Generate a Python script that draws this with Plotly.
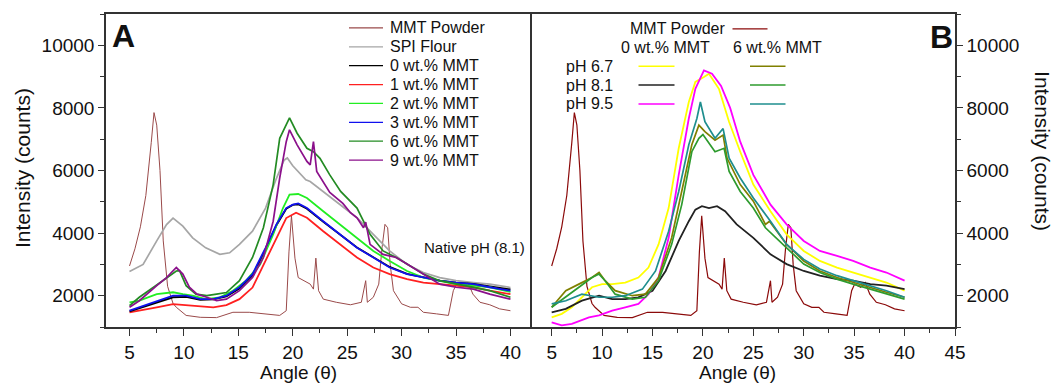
import plotly.graph_objects as go

# ---------------- Panel A data ----------------
x_mmt = [5.0, 5.5, 6.0, 6.5, 7.0, 7.25, 7.5, 7.8, 8.1, 8.5, 9.0, 9.3, 10.2, 11.5, 13.0, 14.5, 16.0, 17.5,
         18.8, 19.4, 19.65, 19.88, 20.2, 20.5, 21.0, 21.6, 21.9, 22.12, 22.37, 22.8, 24.0, 25.3, 26.3, 26.7,
         26.85, 27.4, 27.9, 28.2, 28.47, 28.72, 28.95, 29.25, 30.0, 30.8, 31.5, 32.0, 33.2, 34.3, 34.75,
         35.05, 35.65, 36.1, 36.55, 37.2, 38.1, 39.0, 40.0]
y_mmt = [2950, 3500, 4200, 5200, 6900, 7850, 7450, 6000, 3750, 2300, 1750, 1630, 1370, 1310, 1300, 1470, 1470, 1420,
         1370, 1520, 3400, 4550, 3200, 2580, 2480, 2370, 2210, 3200, 2160, 1890, 1790, 1710, 1790, 2480,
         1790, 1950, 2370, 3530, 4280, 4170, 3000, 2160, 1740, 1630, 1630, 1470, 1420, 1370, 2160,
         2370, 2270, 2420, 2050, 1790, 1710, 1580, 1520]

x_spi = [5.0, 6.25, 7.5, 8.4, 9.0, 9.9, 10.8, 12.0, 13.3, 14.2, 15.1, 16.3, 17.5, 18.5, 19.2, 19.5, 20.0, 20.5,
         21.2, 21.6, 22.8, 24.3, 25.9, 27.4, 28.9, 30.5, 32.0, 33.5, 35.0, 36.6, 38.1, 40.0]
y_spi = [2770, 3000, 3750, 4270, 4480, 4220, 3850, 3530, 3320, 3370, 3640, 4060, 4800, 5750, 6330, 6400, 6150, 5950,
         5700, 5650, 5330, 4910, 4490, 3960, 3430, 3000, 2740, 2580, 2480, 2420, 2370, 2260]

x_a0 = [5.0, 5.9, 7.5, 9.0, 10.2, 11.5, 12.7, 13.9, 15.1, 16.3, 17.5, 18.5, 19.4, 20.0, 20.5, 21.3, 22.8, 24.3,
        25.9, 27.4, 28.9, 30.5, 32.0, 33.5, 35.0, 36.6, 38.1, 40.0]
y_a0 = [1500, 1600, 1800, 1950, 1960, 1870, 1880, 1980, 2230, 2650, 3480, 4250, 4780, 4900, 4920, 4780, 4360, 3950,
        3540, 3230, 2920, 2700, 2590, 2480, 2420, 2380, 2300, 2200]

x_a1 = [5.0, 5.9, 7.5, 9.0, 10.2, 11.5, 12.7, 13.9, 15.1, 16.3, 17.5, 18.5, 19.4, 20.3, 21.3, 22.8, 24.3, 25.9,
        27.4, 28.9, 30.5, 32.0, 33.5, 35.0, 36.6, 38.1, 40.0]
y_a1 = [1470, 1520, 1630, 1730, 1700, 1680, 1630, 1700, 1890, 2260, 3100, 3850, 4480, 4650, 4490, 4060, 3640, 3220,
        2900, 2690, 2530, 2420, 2370, 2320, 2270, 2160, 2050]

x_a2 = [5.0, 5.9, 7.5, 9.0, 9.9, 10.8, 12.0, 13.3, 14.5, 15.7, 17.0, 18.2, 19.1, 19.7, 20.5, 21.3, 22.8, 24.3,
        25.9, 27.4, 28.9, 30.5, 32.0, 33.5, 35.0, 36.6, 38.1, 40.0]
y_a2 = [1790, 1840, 2050, 2110, 2050, 2000, 1890, 1950, 2160, 2480, 3000, 3960, 4800, 5230, 5250, 5120, 4700, 4280,
        3850, 3430, 3110, 2790, 2580, 2480, 2370, 2320, 2270, 2120]

x_a3 = [5.0, 5.9, 7.5, 9.0, 10.2, 11.5, 12.7, 13.9, 15.1, 16.3, 17.5, 18.5, 19.4, 20.0, 20.5, 21.3, 22.8, 24.3,
        25.9, 27.4, 28.9, 30.5, 32.0, 33.5, 35.0, 36.6, 38.1, 40.0]
y_a3 = [1520, 1630, 1840, 2000, 2000, 1890, 1890, 2000, 2270, 2690, 3530, 4280, 4800, 4910, 4950, 4800, 4380, 3960,
        3530, 3220, 2900, 2690, 2580, 2480, 2420, 2370, 2270, 2160]

x_a6 = [5.0, 5.9, 7.5, 8.4, 9.3, 9.6, 10.2, 11.1, 12.1, 13.0, 13.9, 15.1, 16.3, 17.3, 18.2, 18.8, 19.4, 19.7,
        20.4, 21.3, 21.9, 22.5, 23.4, 24.4, 25.9, 27.1, 28.3, 29.5, 30.5, 32.0, 33.5, 35.0, 36.6, 38.1, 40.0]
y_a6 = [1680, 1950, 2340, 2580, 2790, 2800, 2320, 2050, 2000, 2050, 2100, 2480, 3220, 4170, 5550, 7030, 7450, 7680,
        7190, 6710, 6600, 6390, 5860, 5330, 4800, 3960, 3430, 3220, 3010, 2690, 2480, 2370, 2270, 2160, 1950]

x_a9 = [5.0, 5.9, 7.5, 8.4, 9.3, 9.9, 10.5, 11.2, 12.1, 13.0, 13.9, 15.1, 16.3, 17.3, 18.2, 18.8, 19.4, 19.7,
        20.4, 21.3, 21.6, 21.9, 22.2, 23.4, 24.6, 25.3, 25.9, 26.5, 26.7, 27.1, 28.3, 29.5, 30.5, 32.0, 33.5,
        35.0, 36.6, 38.1, 40.0]
y_a9 = [1630, 1840, 2320, 2580, 2900, 2690, 2270, 2050, 1950, 1840, 1890, 2160, 2580, 3220, 4380, 5760, 6920, 7300,
        6820, 6290, 6180, 6920, 5970, 5300, 4950, 4650, 4490, 4170, 4350, 3640, 3320, 3220, 3010, 2690, 2370,
        2270, 2210, 2050, 1890]

# ---------------- Panel B data ----------------
x_b67_0 = [5.0, 6.0, 7.0, 8.0, 9.0, 10.0, 11.0, 12.3, 13.6, 14.6, 15.6, 16.6, 17.6, 18.6, 19.25, 20.1, 20.6, 21.6,
           22.6, 23.7, 25.0, 26.7, 28.3, 30.0, 31.6, 33.3, 34.9, 36.6, 38.2, 40.0]
y_b67_0 = [1310, 1420, 1630, 1950, 2270, 2370, 2370, 2420, 2580, 2900, 3640, 4800, 6710, 8190, 8830, 8990, 9090, 8600,
           7550, 6600, 5550, 4700, 3960, 3430, 3110, 2900, 2740, 2580, 2420, 2160]

x_b81_0 = [5.0, 6.4, 8.0, 9.7, 11.0, 12.3, 13.6, 15.0, 16.3, 17.6, 18.6, 19.25, 19.9, 20.6, 21.4, 22.2, 23.35, 25.0,
           26.7, 28.3, 30.0, 31.6, 33.3, 34.9, 36.6, 38.2, 40.0]
y_b81_0 = [1470, 1580, 1840, 2000, 1890, 1890, 1950, 2160, 2790, 3750, 4380, 4750, 4860, 4800, 4860, 4700, 4280, 3850,
           3320, 3010, 2790, 2640, 2530, 2480, 2370, 2320, 2210]

x_b95_0 = [5.0, 6.0, 7.0, 8.7, 9.7, 11.0, 12.3, 13.6, 14.6, 15.6, 16.6, 17.6, 18.6, 19.25, 20.1, 20.9, 21.8, 22.7,
           23.7, 25.0, 26.7, 28.3, 30.0, 31.6, 33.3, 34.9, 36.6, 38.2, 40.0]
y_b95_0 = [1150, 1050, 1100, 1310, 1370, 1520, 1630, 1740, 2050, 2580, 3850, 5860, 7660, 8610, 9200, 9090, 8700, 8000,
           6920, 5860, 4910, 4280, 3750, 3430, 3270, 3110, 2900, 2740, 2480]

x_b67_6 = [5.0, 6.4, 7.7, 9.0, 9.7, 10.3, 11.3, 13.0, 14.3, 15.6, 16.9, 17.9, 18.9, 19.6, 20.2, 21.2, 22.0, 22.4,
           23.7, 25.0, 26.2, 26.6, 28.3, 30.0, 31.6, 33.3, 34.9, 36.6, 38.2, 40.0]
y_b67_6 = [1630, 2160, 2370, 2580, 2740, 2480, 2160, 2000, 2050, 2580, 3850, 5330, 6820, 7450, 7240, 6970, 7130, 6390,
           5550, 5020, 4280, 4380, 3640, 3110, 2790, 2580, 2420, 2270, 2110, 1950]

x_b81_6 = [5.0, 6.4, 7.7, 9.0, 9.7, 10.3, 11.3, 13.0, 14.3, 15.6, 16.9, 17.9, 18.9, 19.6, 20.0, 21.2, 22.1, 22.6,
           23.7, 25.0, 26.2, 28.3, 30.0, 31.6, 33.3, 34.9, 36.6, 38.2, 40.0]
y_b81_6 = [1630, 1950, 2270, 2580, 2690, 2480, 2050, 1890, 1950, 2480, 3640, 4910, 6600, 7030, 7150, 6600, 6710, 5970,
           5330, 4800, 4170, 3530, 3010, 2740, 2530, 2370, 2210, 2050, 1890]

x_b95_6 = [5.0, 6.4, 8.0, 9.7, 11.0, 12.3, 14.0, 15.3, 16.6, 17.6, 18.6, 19.4, 19.75, 20.2, 21.2, 22.0, 22.6, 23.7,
           25.0, 26.7, 28.3, 30.0, 31.6, 33.3, 34.9, 36.6, 38.2, 40.0]
y_b95_6 = [1740, 1840, 2050, 1950, 1950, 2000, 2210, 2790, 4060, 5330, 6820, 7660, 8190, 7560, 7030, 7340, 6390, 5760,
           5120, 4380, 3640, 3160, 2850, 2640, 2480, 2320, 2160, 1950]

legend_a = ["MMT Powder", "SPI Flour", "0 wt.% MMT", "1 wt.% MMT", "2 wt.% MMT",
            "3 wt.% MMT", "6 wt.% MMT", "9 wt.% MMT"]
ph_labels = ["pH 6.7", "pH 8.1", "pH 9.5"]
col_labels = ["0 wt.% MMT", "6 wt.% MMT"]

x_ticks_a = [5, 10, 15, 20, 25, 30, 35, 40]
x_ticks_b = [5, 10, 15, 20, 25, 30, 35, 40, 45]
y_ticks = [2000, 4000, 6000, 8000, 10000]
y_ticktext = ["2000", "4000", "6000", "8000", "10000"]

# ---------------- styles ----------------
W, H = 1054, 385
ML, MR, MT, MB = 106, 99, 12, 58
PW = W - ML - MR
PH = H - MT - MB
FONT = "Liberation Sans, Arial, sans-serif"

def px(x):
    return (x - ML) / PW

def py(y):
    return (H - MB - y) / PH

colors_a = ["#9A4A4A", "#A6A6A6", "#000000", "#FF2020", "#22EE22", "#1010EE", "#238B23", "#8B108B"]
series_a = [(x_mmt, y_mmt), (x_spi, y_spi), (x_a0, y_a0), (x_a1, y_a1), (x_a2, y_a2),
            (x_a3, y_a3), (x_a6, y_a6), (x_a9, y_a9)]
widths_a = [1.0, 1.7, 1.8, 1.8, 1.8, 1.8, 1.7, 1.7]

col0_colors = ["#FFFF00", "#222222", "#FF00FF"]
col6_colors = ["#808000", "#2E9B2E", "#1E8E8E"]
series_b0 = [(x_b67_0, y_b67_0), (x_b81_0, y_b81_0), (x_b95_0, y_b95_0)]
series_b6 = [(x_b67_6, y_b67_6), (x_b81_6, y_b81_6), (x_b95_6, y_b95_6)]
mmt_b_color = "#8B0A0A"

fig = go.Figure()

# Panel A traces (black drawn beneath blue, as in the original)
order_a = [0, 1, 3, 2, 4, 5, 6, 7]
for i in order_a:
    xs, ys = series_a[i]
    fig.add_trace(go.Scatter(x=xs, y=ys, mode="lines", name=legend_a[i],
                             line=dict(color=colors_a[i], width=widths_a[i]),
                             xaxis="x", yaxis="y", showlegend=False))

# Panel B traces
fig.add_trace(go.Scatter(x=x_mmt, y=y_mmt, mode="lines", name="MMT Powder",
                         line=dict(color=mmt_b_color, width=1.2), xaxis="x2", yaxis="y2", showlegend=False))
for (xs, ys), c in zip(series_b0, col0_colors):
    fig.add_trace(go.Scatter(x=xs, y=ys, mode="lines", line=dict(color=c, width=1.8),
                             xaxis="x2", yaxis="y2", showlegend=False))
for (xs, ys), c in zip(series_b6, col6_colors):
    fig.add_trace(go.Scatter(x=xs, y=ys, mode="lines", line=dict(color=c, width=1.7),
                             xaxis="x2", yaxis="y2", showlegend=False))

axis_common = dict(showline=True, linecolor="#333333", linewidth=1.5, mirror=True,
                   ticks="outside", ticklen=7, tickwidth=1.3, tickcolor="#333333",
                   showgrid=False, zeroline=False,
                   tickfont=dict(family=FONT, size=19, color="#111111"))
minor_x = dict(dtick=2.5, tick0=0, ticks="outside", ticklen=4, tickcolor="#333333")
minor_y = dict(dtick=1000, tick0=0, ticks="outside", ticklen=4, tickcolor="#333333")

fig.update_layout(
    width=W, height=H,
    margin=dict(l=ML, r=MR, t=MT, b=MB),
    paper_bgcolor="white", plot_bgcolor="white",
    showlegend=False,
    xaxis=dict(domain=[0, px(529.5)], range=[2.84, 41.75], tickvals=x_ticks_a, anchor="y",
               minor=minor_x, **axis_common),
    yaxis=dict(domain=[0, 1], range=[1000, 11000], tickvals=y_ticks, ticktext=y_ticktext, anchor="x",
               minor=minor_y, **{**axis_common, "ticklen": 6}),
    xaxis2=dict(domain=[px(531.5), 1], range=[3, 45], tickvals=x_ticks_b, anchor="y2",
                minor=minor_x, **axis_common),
    yaxis2=dict(domain=[0, 1], range=[1000, 11000], tickvals=y_ticks, ticktext=y_ticktext, anchor="x2",
                side="right", minor=minor_y, **{**axis_common, "ticklen": 6}),
)

ann = []
shapes = []

def text(t, x, y, size=15, xanchor="left", bold=False, angle=0):
    ann.append(dict(text=("<b>%s</b>" % t) if bold else t, x=px(x), y=py(y), xref="paper", yref="paper",
                    xanchor=xanchor, yanchor="middle", showarrow=False, textangle=angle,
                    font=dict(family=FONT, size=size, color="#111111")))

def seg(x0, x1, y, color, width=1.5):
    shapes.append(dict(type="line", xref="paper", yref="paper", x0=px(x0), x1=px(x1), y0=py(y), y1=py(y),
                       line=dict(color=color, width=width)))

# Panel labels
text("A", 123.5, 34, size=32, xanchor="center", bold=True)
text("B", 941, 35, size=32, xanchor="center", bold=True)

# Axis titles
text("Angle (θ)", 298.5, 373, size=19, xanchor="center")
text("Angle (θ)", 737.5, 373, size=19, xanchor="center")
text("Intensity (counts)", 22, 167, size=21, xanchor="center", angle=-90)
text("Intensity (counts)", 1043, 150, size=21, xanchor="center", angle=90)

text("Native pH (8.1)", 527, 247, size=15, xanchor="right")

# Legend A
row_y = [26, 45, 64, 83, 102, 121, 140, 159]
for i, lab in enumerate(legend_a):
    seg(349, 383, row_y[i], colors_a[i], 1.3)
    text(lab, 388, row_y[i], size=16)

# Legend B
text("MMT Powder", 627.5, 27, size=16)
seg(732.5, 767.5, 27, mmt_b_color, 1.3)
text(col_labels[0], 618.5, 46, size=16)
text(col_labels[1], 731, 46, size=16)
ph_y = [64.5, 83.5, 102.5]
for i, lab in enumerate(ph_labels):
    text(lab, 563.5, ph_y[i], size=16)
    seg(638.5, 674.5, ph_y[i], col0_colors[i], 1.5)
    seg(750, 785.5, ph_y[i], col6_colors[i], 1.5)

fig.update_layout(annotations=ann, shapes=shapes)
fig.write_html("out.html")
